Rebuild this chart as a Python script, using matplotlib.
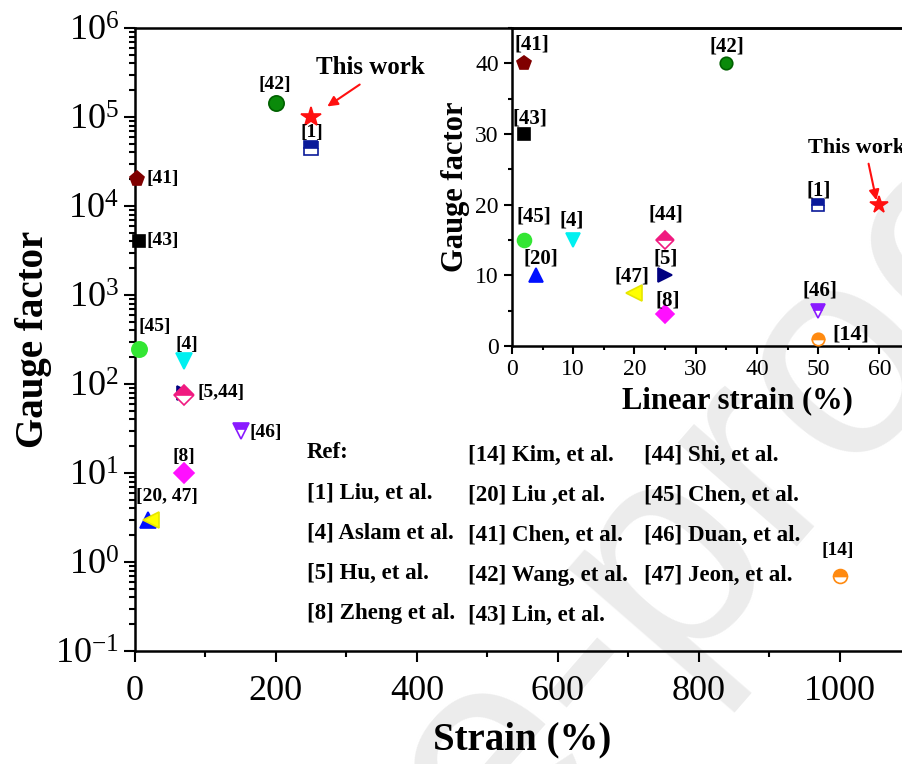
#
# Gauge factor vs strain comparison (log main plot + linear inset)
#
import numpy as np
import matplotlib
matplotlib.use("Agg")
import matplotlib.pyplot as plt
from matplotlib.ticker import MultipleLocator, LogLocator, NullFormatter

plt.rcParams['font.family'] = ['Liberation Serif', 'DejaVu Serif']
plt.rcParams['mathtext.fontset'] = 'custom'
plt.rcParams['mathtext.rm'] = 'Liberation Serif'
plt.rcParams['mathtext.default'] = 'regular'
plt.rcParams['axes.unicode_minus'] = False

# Main plot data: reference, strain (%), gauge factor
main_refs = ["[42]", "This work", "[1]", "[41]", "[43]", "[45]", "[4]",
             "[5]", "[44]", "[46]", "[8]", "[20]", "[47]", "[14]"]
main_strain = [200, 250, 250, 3, 5, 5, 70, 70, 70, 150, 70, 18, 22, 1000]
main_gf = [1.45e5, 1.0e5, 4.5e4, 2.0e4, 4.0e3, 250, 180, 80, 75, 30, 10, 3, 3, 0.7]

# Inset data: reference, linear strain (%), gauge factor
ins_refs = ["[41]", "[42]", "[43]", "[1]", "This work", "[45]", "[4]",
            "[44]", "[20]", "[5]", "[47]", "[8]", "[46]", "[14]"]
ins_strain = [2, 35, 2, 50, 60, 2, 10, 25, 4, 25, 20, 25, 50, 50]
ins_gf = [40, 40, 30, 20, 20, 15, 15, 15, 10, 10, 7.5, 4.5, 5, 1]

# marker style per reference (marker, face colour, edge colour, fill, main size, inset size)
styles = {
    "[42]": ("o", "#0a8a0a", "#006000", "full", 11, 9),
    "This work": ("*", "#ff1010", "#ff1010", "full", 15, 13),
    "[1]": ("s", "#0a1a9a", "#0a1a9a", "top", 10, 8),
    "[41]": ("p", "#800000", "#800000", "full", 11, 10),
    "[43]": ("s", "#000000", "#000000", "full", 8, 8),
    "[45]": ("o", "#33e633", "#33e633", "full", 11, 10),
    "[4]": ("v", "#00f0f0", "#00f0f0", "full", 12, 10),
    "[5]": (">", "#000080", "#000080", "full", 10, 10),
    "[44]": ("D", "#f01a80", "#f01a80", "top", 10, 9),
    "[46]": ("v", "#8a1aff", "#8a1aff", "top", 12, 10),
    "[8]": ("D", "#ff10ff", "#ff10ff", "full", 10, 9),
    "[20]": ("^", "#0010ff", "#0010ff", "full", 11, 10),
    "[47]": ("<", "#ffff00", "#e6e600", "full", 12, 11),
    "[14]": ("o", "#ff8a10", "#ff8a10", "top", 10, 9),
}

ref_list = [["Ref:", "[1] Liu, et al.", "[4] Aslam et al.", "[5] Hu, et al.", "[8] Zheng et al."],
            ["[14] Kim, et al.", "[20] Liu ,et al.", "[41] Chen, et al.", "[42] Wang, et al.", "[43] Lin, et al."],
            ["[44] Shi, et al.", "[45] Chen, et al.", "[46] Duan, et al.", "[47] Jeon, et al."]]

W, H = 903, 764


def fp(x, y):
    # pixel -> figure fraction
    return x / W, 1 - y / H


fig = plt.figure(figsize=(W / 100, H / 100), dpi=100)

# watermark, behind everything
fig.text(0.34, -0.30, "Journal Pre-proof", family="Liberation Sans", fontsize=215,
         color="#ececec", rotation=49, rotation_mode="anchor",
         ha="center", va="center", zorder=-5)

ax = fig.add_axes([135 / W, 113 / H, 775 / W, 623 / H])
ax.set_facecolor("none")
for i, r in enumerate(main_refs):
    m, fc, ec, fill, ms, _ = styles[r]
    ax.plot(main_strain[i], main_gf[i], linestyle="none", marker=m, ms=ms,
            color=fc, mec=ec, mew=1.2, fillstyle=fill,
            markerfacecoloralt="white", clip_on=False, zorder=3)

ax.set_yscale("log")
ax.set_xlim(0, 1100)
ax.set_ylim(0.1, 1e6)
ax.xaxis.set_major_locator(MultipleLocator(200))
ax.xaxis.set_minor_locator(MultipleLocator(100))
ax.yaxis.set_major_locator(LogLocator(base=10, numticks=20))
ax.yaxis.set_minor_locator(LogLocator(base=10, subs=np.arange(2, 10), numticks=20))
ax.yaxis.set_minor_formatter(NullFormatter())
ax.tick_params(which="both", direction="out", width=1.5, labelsize=26, top=False, right=False)
ax.tick_params(which="major", length=8)
ax.tick_params(which="minor", length=4)
ax.tick_params(axis="x", pad=9)
for sp in ax.spines.values():
    sp.set_linewidth(1.8)
ax.set_xlabel("Strain (%)", fontsize=28, fontweight="bold", labelpad=10)
ax.set_ylabel("Gauge factor", fontsize=28, fontweight="bold", labelpad=2)

# main labels
kw = dict(fontsize=14, fontweight="bold", va="center")
fig.text(*fp(275, 85), "[42]", ha="center", **kw)
fig.text(*fp(312, 133), "[1]", ha="center", **kw)
fig.text(*fp(147, 178), "[41]", ha="left", **kw)
fig.text(*fp(147, 241), "[43]", ha="left", **kw)
fig.text(*fp(155, 326), "[45]", ha="center", **kw)
fig.text(*fp(187, 345), "[4]", ha="center", **kw)
fig.text(*fp(198, 392), "[5,44]", ha="left", **kw)
fig.text(*fp(250, 432), "[46]", ha="left", **kw)
fig.text(*fp(184, 457), "[8]", ha="center", **kw)
fig.text(*fp(136, 497), "[20, 47]", ha="left", **kw)
fig.text(*fp(838, 550), "[14]", ha="center", **kw)
fig.text(*fp(370, 67), "This work", ha="center", fontsize=18, fontweight="bold", va="center")
fig.add_artist(plt.Annotation("", xy=fp(325, 108), xytext=fp(362, 83), xycoords="figure fraction",
                              arrowprops=dict(arrowstyle="-|>", color="#ff1010", lw=1.5, mutation_scale=15)))

# reference list
col_x = [307, 468, 644]
for c, col in enumerate(ref_list):
    for j, txt in enumerate(col):
        fig.text(*fp(col_x[c], 453 + 40 * j + (2 if c else 0)), txt, fontsize=16.5,
                 fontweight="bold", ha="left", va="center")

# inset
axi = fig.add_axes([512 / W, (H - 346) / H, 450 / W, 318 / H])
axi.set_facecolor("none")
for i, r in enumerate(ins_refs):
    m, fc, ec, fill, _, ms = styles[r]
    axi.plot(ins_strain[i], ins_gf[i], linestyle="none", marker=m, ms=ms,
             color=fc, mec=ec, mew=1.2, fillstyle=fill,
             markerfacecoloralt="white", clip_on=False, zorder=3)
axi.set_xlim(0, 73.5)
axi.set_ylim(0, 45)
axi.xaxis.set_major_locator(MultipleLocator(10))
axi.xaxis.set_minor_locator(MultipleLocator(5))
axi.yaxis.set_major_locator(MultipleLocator(10))
axi.yaxis.set_minor_locator(MultipleLocator(5))
axi.tick_params(which="both", direction="out", width=1.5, labelsize=17, top=False, right=False)
axi.tick_params(which="major", length=6)
axi.tick_params(which="minor", length=3)
for sp in axi.spines.values():
    sp.set_linewidth(1.8)
axi.set_xlabel("Linear strain (%)", fontsize=22, fontweight="bold", labelpad=4)
axi.set_ylabel("Gauge factor", fontsize=22, fontweight="bold", labelpad=4)

kw = dict(fontsize=15, fontweight="bold", va="center", ha="center")
fig.text(*fp(532, 44), "[41]", **kw)
fig.text(*fp(727, 46), "[42]", **kw)
fig.text(*fp(530, 118), "[43]", **kw)
fig.text(*fp(819, 190), "[1]", **kw)
fig.text(*fp(534, 217), "[45]", **kw)
fig.text(*fp(572, 220), "[4]", **kw)
fig.text(*fp(666, 215), "[44]", **kw)
fig.text(*fp(541, 258), "[20]", **kw)
fig.text(*fp(666, 258), "[5]", **kw)
fig.text(*fp(632, 276), "[47]", **kw)
fig.text(*fp(668, 300), "[8]", **kw)
fig.text(*fp(820, 290), "[46]", **kw)
fig.text(*fp(832, 335), "[14]", fontsize=16, fontweight="bold", va="center", ha="left")
fig.text(*fp(808, 148), "This work", fontsize=16, fontweight="bold", va="center", ha="left")
fig.add_artist(plt.Annotation("", xy=fp(877, 203), xytext=fp(868, 161), xycoords="figure fraction",
                              arrowprops=dict(arrowstyle="-|>", color="#ff1010", lw=1.5, mutation_scale=15)))

fig.savefig("out.png", dpi=100)
